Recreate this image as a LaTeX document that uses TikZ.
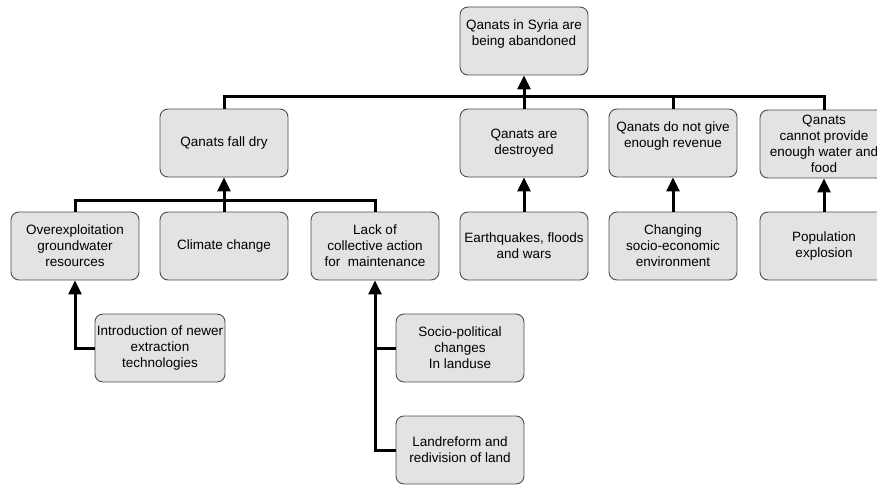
\documentclass[tikz,border=0pt]{standalone}
\usepackage{fontspec}
\setmainfont{Liberation Sans}
\usepackage{tikz}
\usetikzlibrary{positioning,shapes,arrows.meta,calc}

\tikzset{
  box/.style={draw=black!70, line width=0.9pt, fill=black!11, rounded corners=8pt,
    minimum width=128pt, minimum height=68pt, inner sep=2pt, align=center,
    font=\fontsize{13.5}{16}\selectfont},
  link/.style={line width=3pt, black},
  cause/.style={link, -{Triangle[width=13pt,length=14pt]}}
}

\begin{document}
\begin{tikzpicture}[x=1pt,y=-1pt]
    \useasboundingbox (0,0) rectangle (877,484);

    % glavni problem
    \node [box] (top) at (524,41) {Qanats in Syria are\\being abandoned\\~};

    % drugi nivo
    \node [box] (dry) at (224,143) {Qanats fall dry};
    \node [box] (destroyed) at (524,143) {Qanats are\\destroyed};
    \node [box] (revenue) at (673,143) {Qanats do not give\\enough revenue\\~};
    \node [box] (food) at (824,144) {Qanats\\cannot provide\\enough water and\\food};

    % tretji nivo
    \node [box] (overex) at (75,246) {Overexploitation\\groundwater\\resources};
    \node [box] (climate) at (224,246) {Climate change};
    \node [box] (lack) at (375,246) {Lack of\\collective action\\for~ maintenance};
    \node [box] (quakes) at (524,246) {Earthquakes, floods\\and wars};
    \node [box] (socio) at (673,246) {Changing\\socio-economic\\environment};
    \node [box] (popul) at (824,246) {Population\\explosion};

    % cetrti nivo
    \node [box] (intro) at (160,348) {Introduction of newer\\extraction\\technologies};
    \node [box] (landuse) at (460,348) {Socio-political\\changes\\In landuse};
    \node [box] (landref) at (460,450) {Landreform and\\redivision of land};

    % vodila
    \coordinate (bus) at (524,97);
    \coordinate (sub) at (224,200);
    \draw [cause] (destroyed) -- (top);
    \draw [link] (dry.north) |- (food.north |- bus) -- (food.north);
    \draw [link] (revenue.north) -- (revenue.north |- bus);

    \draw [cause] (climate) -- (dry);
    \draw [link] (overex.north) |- (lack.north |- sub) -- (lack.north);
    \draw [cause] (quakes) -- (destroyed);
    \draw [cause] (socio) -- (revenue);
    \draw [cause] (popul) -- (food);

    \draw [cause] (intro.west) -| (overex.south);
    \draw [cause] (landref.west) -| (lack.south);
    \draw [link] (landuse.west) -- (landuse.west -| lack.south);
  \end{tikzpicture}
\end{document}
